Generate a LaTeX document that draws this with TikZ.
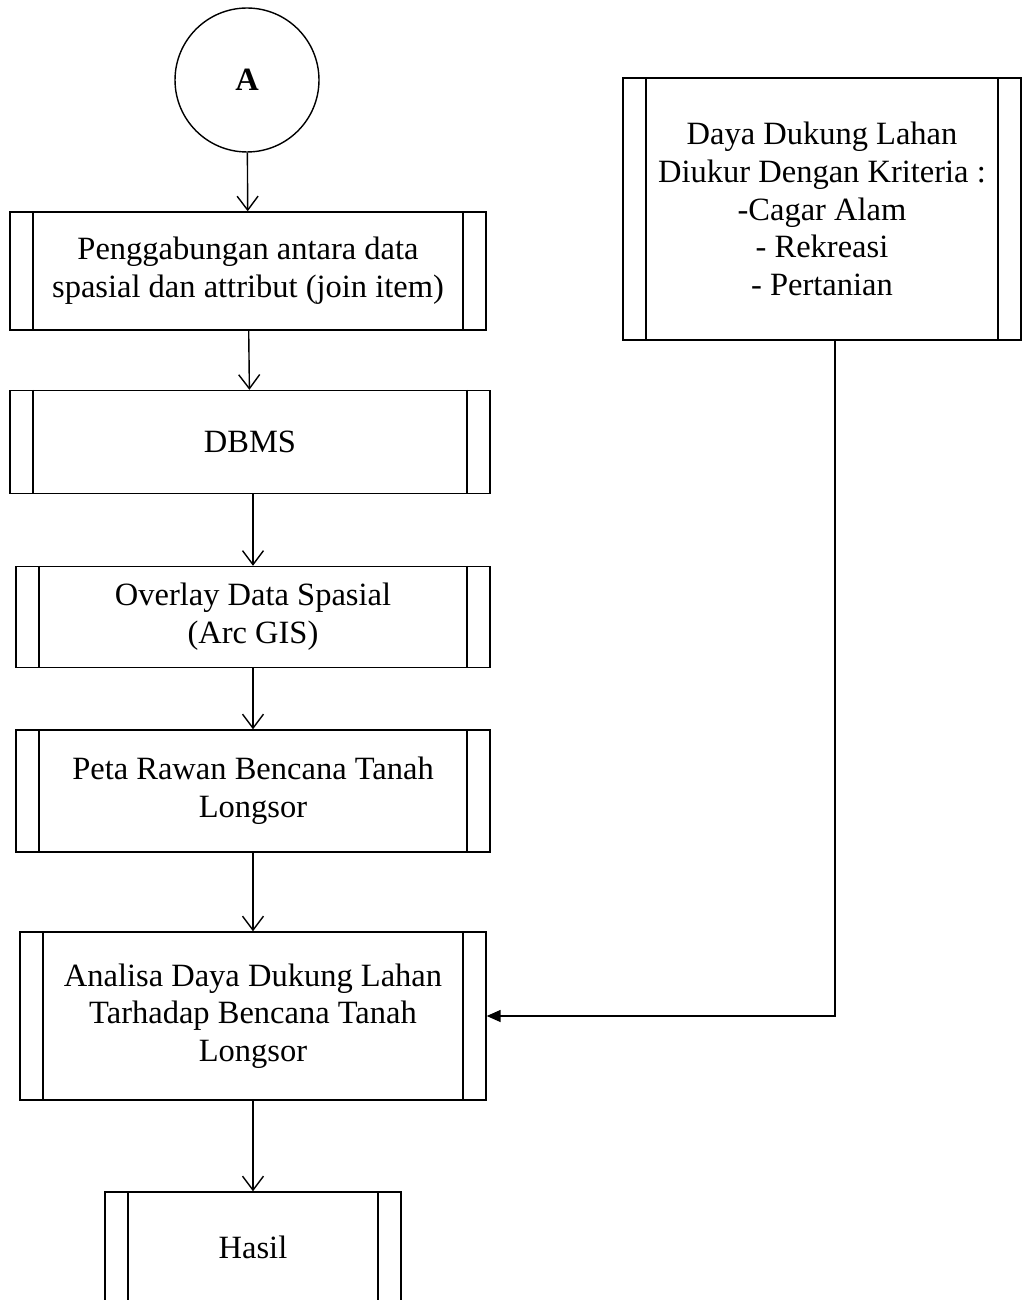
\documentclass[tikz,border=0pt]{standalone}
\usepackage{fontspec}
\setmainfont{Liberation Serif}
\usetikzlibrary{arrows.meta}

\tikzset{
  proc/.style={draw, rectangle, line width=0.8pt, inner sep=0pt, align=center},
  lnk/.style={line width=0.8pt, -{Straight Barb[length=2.8mm,width=4.2mm,line width=0.8pt]}},
  lnkfill/.style={line width=0.8pt, -{Triangle[length=2.8mm,width=2.4mm]}}
}

\begin{document}
\begin{tikzpicture}[x=0.02cm, y=-0.02cm, font=\fontsize{18.5}{21.5}\selectfont]
\def \side {0.47cm}
\clip (0,0) rectangle (1022,1300);
\useasboundingbox (0,0) rectangle (1022,1300);

\draw (247,80) node[circle, draw, line width=0.8pt, minimum size=2.88cm] (a) {\textbf{A}};
\draw (248,271) node[proc, minimum width=9.52cm, minimum height=2.36cm] (b1) {Penggabungan antara data\\spasial dan attribut (join item)};
\draw (250,442) node[proc, minimum width=9.6cm, minimum height=2.06cm] (b2) {DBMS};
\draw (253,617) node[proc, minimum width=9.48cm, minimum height=2.02cm] (b3) {Overlay Data Spasial\\(Arc GIS)};
\draw (253,791) node[proc, minimum width=9.48cm, minimum height=2.44cm] (b4) {Peta Rawan Bencana Tanah\\Longsor};
\draw (253,1016) node[proc, minimum width=9.32cm, minimum height=3.36cm] (b5) {Analisa Daya Dukung Lahan\\Tarhadap Bencana Tanah\\Longsor};
\draw (253,1247) node[proc, minimum width=5.92cm, minimum height=2.2cm] (b6) {Hasil};
\draw (822,209) node[proc, minimum width=7.96cm, minimum height=5.24cm] (kr) {Daya Dukung Lahan\\Diukur Dengan Kriteria :\\-Cagar Alam\\- Rekreasi\\- Pertanian};

\foreach \n in {b1,b2,b3,b4,b5,b6,kr} {
  \draw[line width=0.8pt] ([xshift=\side]\n.north west) -- ([xshift=\side]\n.south west);
  \draw[line width=0.8pt] ([xshift=-\side]\n.north east) -- ([xshift=-\side]\n.south east);
}

\draw[lnk] (a) -- (b1);
\draw[lnk] (b1) -- (b2);
\draw[lnk] (b3.north |- b2.south) -- (b3.north);
\draw[lnk] (b3) -- (b4);
\draw[lnk] (b4) -- (b5);
\draw[lnk] (b5) -- (b6);
\draw[lnkfill] ([xshift=0.26cm]kr.south) |- (b5.east);
\end{tikzpicture}
\end{document}
